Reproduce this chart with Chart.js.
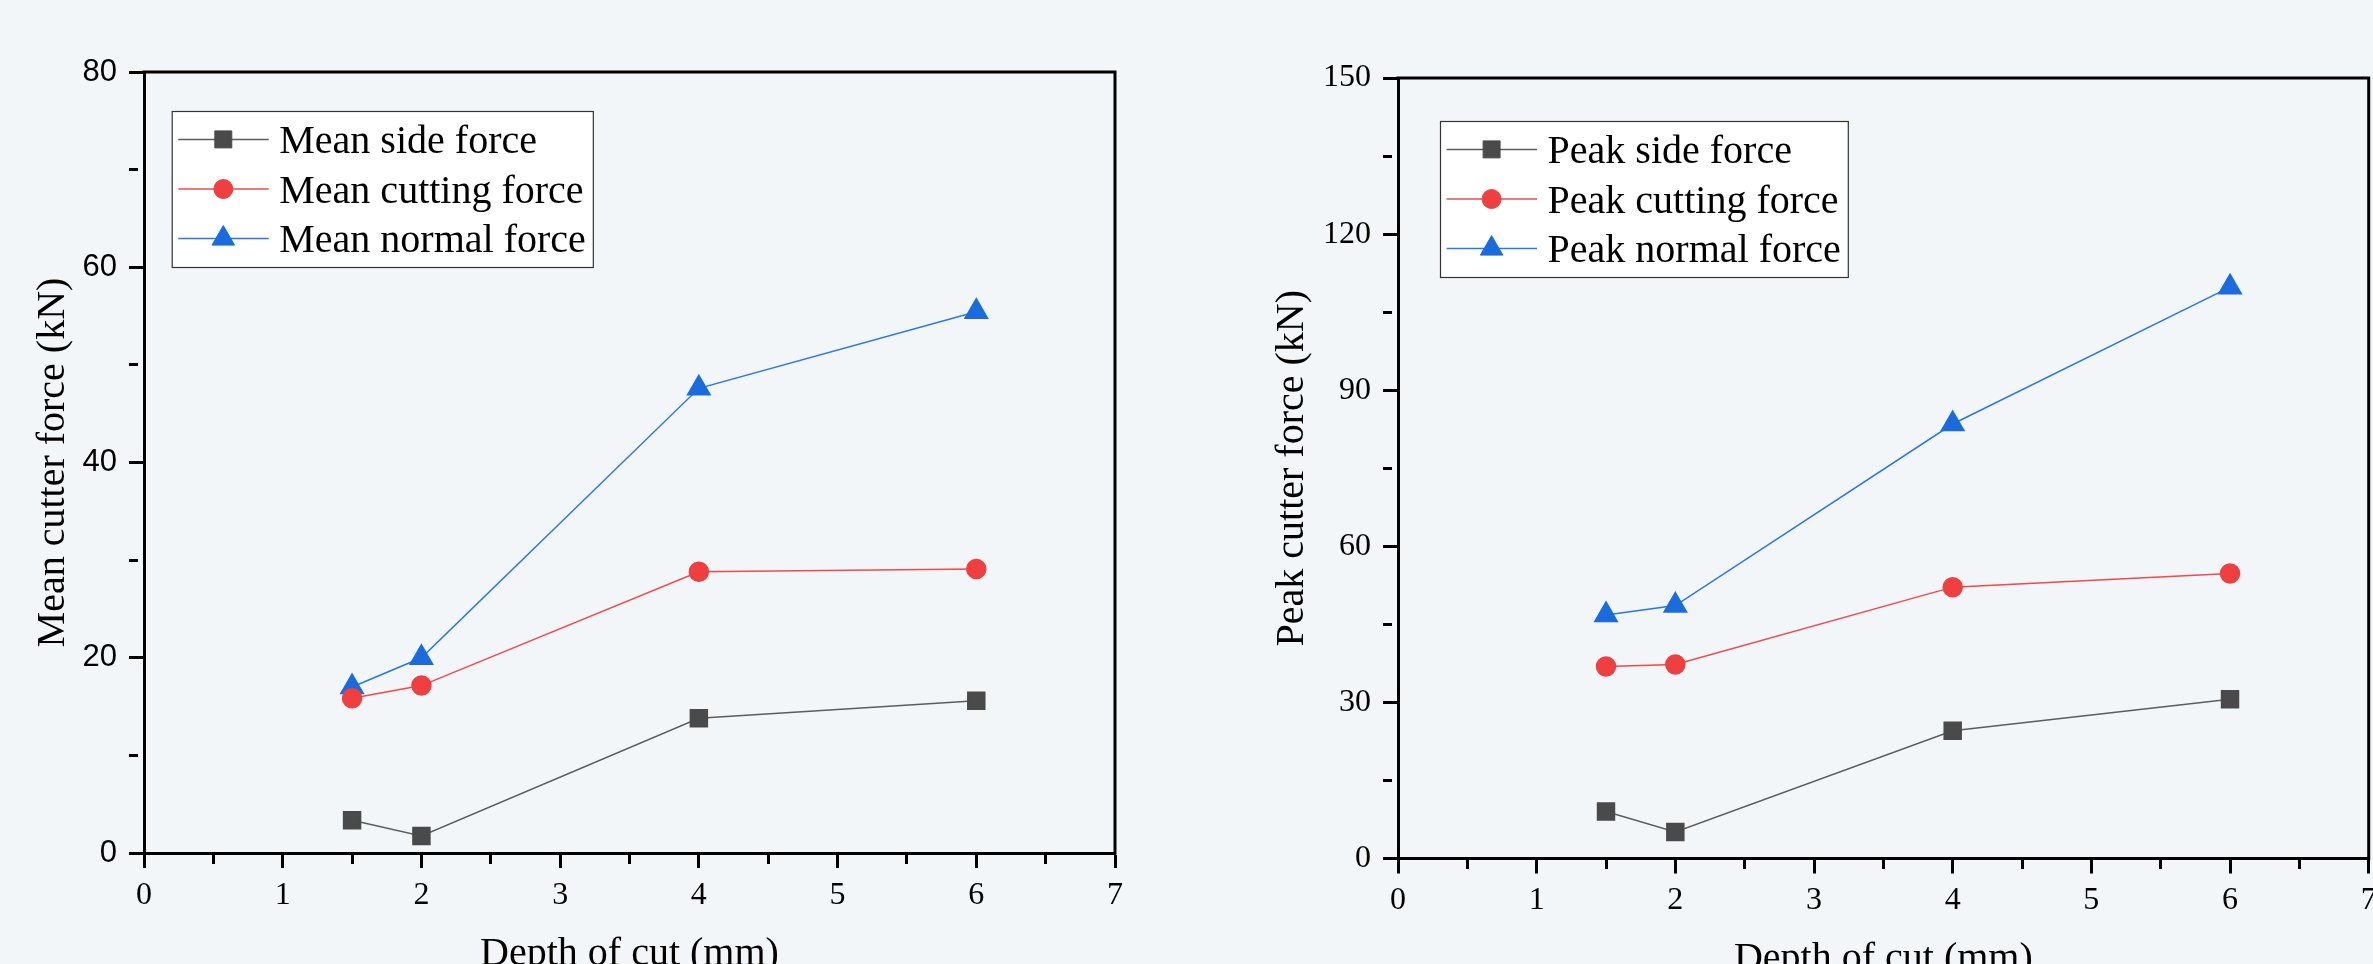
<!DOCTYPE html>
<html>
<head>
<meta charset="utf-8">
<title>Cutter force vs depth of cut</title>
<script src="https://cdn.jsdelivr.net/npm/chart.js@4.4.1/dist/chart.umd.min.js"></script>
<style>
    html, body { margin: 0; padding: 0; background: #f3f6f9; overflow: hidden; }
    #wrap { position: relative; width: 2373px; height: 964px; overflow: hidden; }
    canvas { position: absolute; top: 0; }
    #meanChart { left: 0; }
    #peakChart { left: 1190px; }
</style>
</head>
<body>
<div id="wrap">
    <canvas id="meanChart" width="1180" height="1000"></canvas>
    <canvas id="peakChart" width="1230" height="1000"></canvas>
</div>
<script>
// Depth of cut (mm) - shared x values
const depthOfCut = [1.5, 2, 4, 6];

// Mean forces (kN)
const meanLabels = ['Mean side force', 'Mean cutting force', 'Mean normal force'];
const meanSide = [3.35, 1.75, 13.8, 15.6];
const meanCutting = [15.85, 17.15, 28.8, 29.1];
const meanNormal = [17.0, 20.0, 47.6, 55.45];

// Peak forces (kN)
const peakLabels = ['Peak side force', 'Peak cutting force', 'Peak normal force'];
const peakSide = [9.05, 5.1, 24.55, 30.6];
const peakCutting = [36.9, 37.3, 52.15, 54.75];
const peakNormal = [46.8, 48.6, 83.5, 109.8];

const xTicks = { min: 0, max: 7, step: 0.5, major: 1 };
const meanTicks = { min: 0, max: 80, step: 10, major: 20 };
const peakTicks = { min: 0, max: 150, step: 15, major: 30 };

const SERIF = "'Liberation Serif', 'Times New Roman', serif";
const SANS = "'Liberation Sans', Arial, sans-serif";

const toPoints = (vals) => depthOfCut.map((x, i) => ({ x: x, y: vals[i] }));

const makeDatasets = (labels, side, cutting, normal) => [
    {
        label: labels[0], data: toPoints(side),
        borderColor: '#5c5c5c', borderWidth: 1.5,
        pointStyle: 'rect', pointRadius: 12,
        pointBackgroundColor: '#4a4a4a', pointBorderColor: '#4a4a4a'
    },
    {
        label: labels[1], data: toPoints(cutting),
        borderColor: '#f04a4a', borderWidth: 1.5,
        pointStyle: 'circle', pointRadius: 9.5,
        pointBackgroundColor: '#ef3f3f', pointBorderColor: '#ef3f3f'
    },
    {
        label: labels[2], data: toPoints(normal),
        borderColor: '#2a78e4', borderWidth: 1.5,
        pointStyle: 'triangle', pointRadius: 13,
        pointBackgroundColor: '#1a6cde', pointBorderColor: '#1a6cde'
    }
];

// top + right lines of the box frame
const framePlugin = {
    id: 'frame',
    afterDraw(chart) {
        const { ctx, chartArea } = chart;
        ctx.save();
        ctx.strokeStyle = '#000';
        ctx.lineWidth = 3;
        ctx.lineCap = 'square';
        ctx.beginPath();
        ctx.moveTo(chartArea.left, chartArea.top);
        ctx.lineTo(chartArea.right, chartArea.top);
        ctx.lineTo(chartArea.right, chartArea.bottom);
        ctx.stroke();
        ctx.restore();
    }
};

// Origin style legend: line + marker + label, inside a white box
const boxLegendPlugin = {
    id: 'boxLegend',
    afterDraw(chart, args, opts) {
        const ctx = chart.ctx;
        const left = opts.left, top = opts.top;
        const rowGap = 49.6, firstRow = 28.4, height = 156;
        ctx.save();
        ctx.font = '40px ' + SERIF;
        const textX = left + 107.6;
        const widest = Math.max(...chart.data.datasets.map(d => ctx.measureText(d.label).width));
        const width = textX + widest + 7 - left;

        ctx.fillStyle = '#ffffff';
        ctx.fillRect(left, top, width, height);
        ctx.strokeStyle = '#333';
        ctx.lineWidth = 1.2;
        ctx.strokeRect(left + 0.5, top + 0.5, width, height);

        chart.data.datasets.forEach((ds, i) => {
            const y = top + firstRow + i * rowGap;
            ctx.strokeStyle = ds.borderColor;
            ctx.lineWidth = ds.borderWidth;
            ctx.beginPath();
            ctx.moveTo(left + 6.6, y);
            ctx.lineTo(left + 97, y);
            ctx.stroke();

            ctx.fillStyle = ds.pointBackgroundColor;
            ctx.strokeStyle = ds.pointBorderColor;
            ctx.lineWidth = 1;
            Chart.helpers.drawPoint(ctx, {
                pointStyle: ds.pointStyle, radius: ds.pointRadius, rotation: 0, borderWidth: 1
            }, left + 51.6, y);

            ctx.fillStyle = '#000';
            ctx.textBaseline = 'alphabetic';
            ctx.textAlign = 'left';
            ctx.fillText(ds.label, textX, y + 13.5);
        });
        ctx.restore();
    }
};

const tickGrid = (major) => ({
    drawOnChartArea: false,
    drawTicks: true,
    tickLength: 15,
    tickWidth: 3,
    tickColor: '#000',
    // minor ticks: only draw the first part of the tick line
    tickBorderDash: (c) => (c.tick && Math.abs(c.tick.value / major - Math.round(c.tick.value / major)) > 1e-6) ? [9, 100] : []
});

const renderForceChart = (canvasId, cfg) => {
    const ctx = document.getElementById(canvasId);
    return new Chart(ctx, {
        type: 'line',
        data: { datasets: makeDatasets(cfg.labels, cfg.side, cfg.cutting, cfg.normal) },
        options: {
            responsive: false,
            animation: false,
            devicePixelRatio: 1,
            layout: { padding: cfg.padding },
            plugins: {
                legend: { display: false },
                tooltip: { enabled: false },
                boxLegend: cfg.legend
            },
            scales: {
                x: {
                    type: 'linear',
                    min: xTicks.min,
                    max: xTicks.max,
                    afterFit: (s) => { s.height = cfg.xAxisHeight; },
                    ticks: {
                        stepSize: xTicks.step,
                        autoSkip: false,
                        maxRotation: 0,
                        padding: 8,
                        color: '#000',
                        font: { family: SERIF, size: 32 },
                        callback: (v) => Number.isInteger(v / xTicks.major) ? String(v) : ''
                    },
                    grid: tickGrid(xTicks.major),
                    border: { display: true, width: 3, color: '#000' },
                    title: {
                        display: true,
                        text: 'Depth of cut (mm)',
                        color: '#000',
                        font: { family: SERIF, size: 40 },
                        padding: { top: 0, bottom: cfg.xTitlePad }
                    }
                },
                y: {
                    type: 'linear',
                    min: cfg.yTicks.min,
                    max: cfg.yTicks.max,
                    afterFit: (s) => { s.width = cfg.yAxisWidth; },
                    ticks: {
                        stepSize: cfg.yTicks.step,
                        autoSkip: false,
                        padding: 12,
                        color: '#000',
                        font: cfg.yTickFont,
                        callback: (v) => Number.isInteger(v / cfg.yTicks.major) ? String(v) : ''
                    },
                    grid: tickGrid(cfg.yTicks.major),
                    border: { display: true, width: 3, color: '#000' },
                    title: {
                        display: true,
                        text: cfg.yTitle,
                        color: '#000',
                        font: { family: SERIF, size: 40 },
                        padding: { top: cfg.yTitlePad, bottom: 0 }
                    }
                }
            }
        },
        plugins: [framePlugin, boxLegendPlugin]
    });
};

renderForceChart('meanChart', {
    labels: meanLabels,
    side: meanSide, cutting: meanCutting, normal: meanNormal,
    yTicks: meanTicks,
    yTitle: 'Mean cutter force (kN)',
    yTickFont: { family: SANS, size: 31 },
    padding: { left: 0, top: 72, right: 65, bottom: 0 },
    yAxisWidth: 144,
    xAxisHeight: 147,
    yTitlePad: 29,
    xTitlePad: 22,
    legend: { left: 171.7, top: 111 }
});

renderForceChart('peakChart', {
    labels: peakLabels,
    side: peakSide, cutting: peakCutting, normal: peakNormal,
    yTicks: peakTicks,
    yTitle: 'Peak cutter force (kN)',
    yTickFont: { family: SERIF, size: 32 },
    padding: { left: 0, top: 78, right: 51.3, bottom: 0 },
    yAxisWidth: 208,
    xAxisHeight: 141.5,
    yTitlePad: 78,
    xTitlePad: 16.5,
    legend: { left: 250, top: 121 }
});
</script>
</body>
</html>
